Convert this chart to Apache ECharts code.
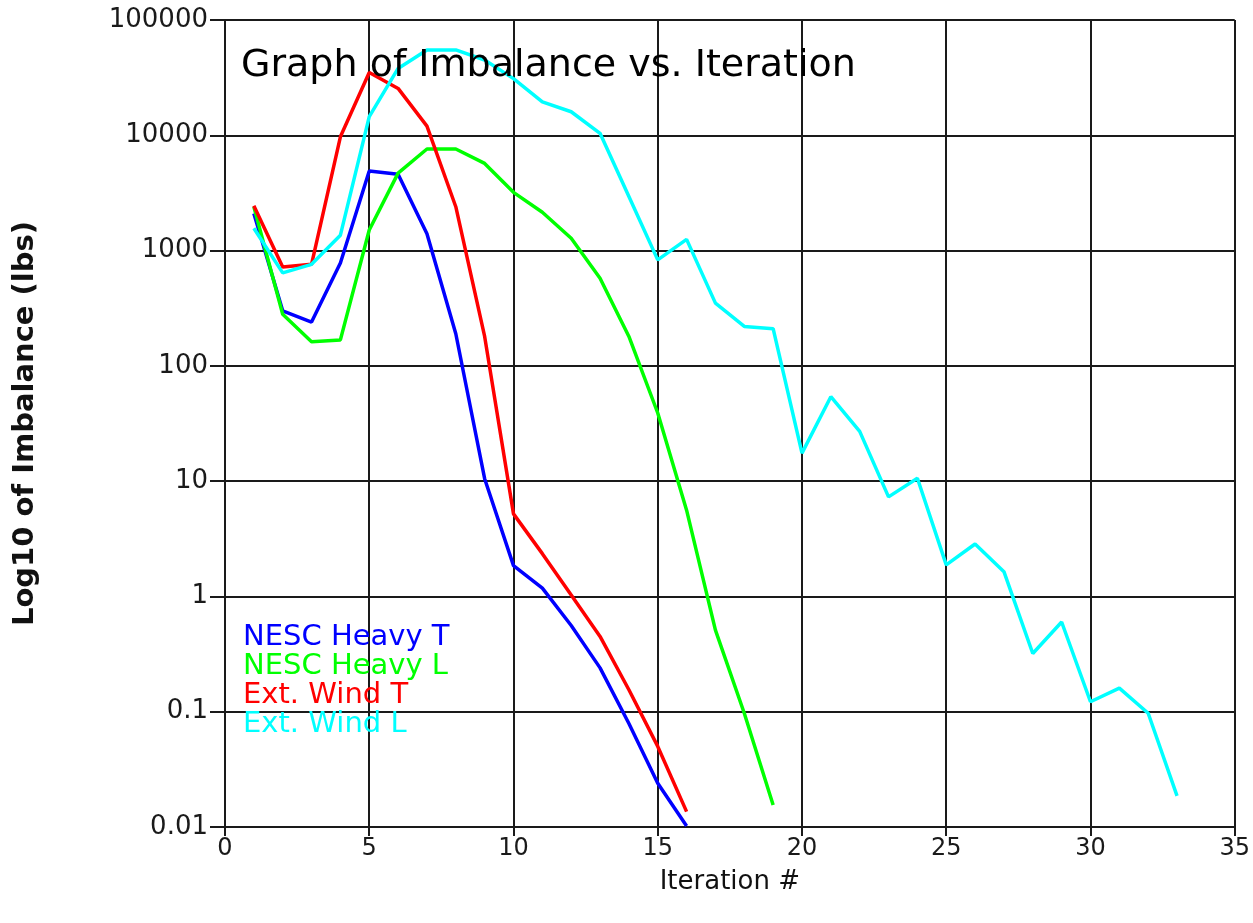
<!DOCTYPE html>
<html>
<head>
<meta charset="utf-8">
<title>Graph of Imbalance vs. Iteration</title>
<script src="https://cdn.jsdelivr.net/npm/echarts@6/dist/echarts.min.js"></script>
<style>
  html, body { margin: 0; padding: 0; background: #ffffff; }
  #chart { width: 1253px; height: 923px; }
</style>
</head>
<body>
<div id="chart"></div>
<script>
// Imbalance (lbs) per solver iteration for each load case
const nescHeavyTIter = [1, 2, 3, 4, 5, 6, 7, 8, 9, 10, 11, 12, 13, 14, 15, 16];
const nescHeavyT = [2100, 300, 240, 780, 4900, 4600, 1400, 190, 10.5, 1.85, 1.18, 0.56, 0.24, 0.079, 0.024, 0.0102];

const nescHeavyLIter = [1, 2, 3, 4, 5, 6, 7, 8, 9, 10, 11, 12, 13, 14, 15, 16, 17, 18, 19];
const nescHeavyL = [2400, 280, 162, 168, 1510, 4700, 7600, 7600, 5700, 3200, 2150, 1280, 575, 180, 39, 5.6, 0.51, 0.097, 0.0155];

const extWindTIter = [1, 2, 3, 4, 5, 6, 7, 8, 9, 10, 11, 12, 13, 14, 15, 16];
const extWindT = [2450, 720, 760, 9700, 35000, 25500, 12000, 2400, 180, 5.2, 2.35, 1.03, 0.45, 0.155, 0.05, 0.0136];

const extWindLIter = [1, 2, 3, 4, 5, 6, 7, 8, 9, 10, 11, 12, 13, 14, 15, 16, 17,
                      18, 19, 20, 21, 22, 23, 24, 25, 26, 27, 28, 29, 30, 31, 32, 33];
const extWindL = [1560, 640, 760, 1360, 14500, 38000, 55000, 55000, 45000, 31000, 19500, 16000, 10400, 2950, 830, 1250, 350,
                  220, 210, 17.5, 54, 27, 7.3, 10.6, 1.88, 2.85, 1.64, 0.32, 0.6, 0.122, 0.16, 0.097, 0.0186];

const seriesNames = ['NESC Heavy T', 'NESC Heavy L', 'Ext. Wind T', 'Ext. Wind L'];
const seriesColors = ['#0000ff', '#00ff00', '#ff0000', '#00ffff'];

const yTickLabels = ['0.01', '0.1', '1', '10', '100', '1000', '10000', '100000'];
const xTickLabels = ['0', '5', '10', '15', '20', '25', '30', '35'];

const FONT = 'DejaVu Sans';

function pairs(xs, ys) {
  return xs.map((x, i) => [x, ys[i]]);
}

const seriesData = [
  pairs(nescHeavyTIter, nescHeavyT),
  pairs(nescHeavyLIter, nescHeavyL),
  pairs(extWindTIter, extWindT),
  pairs(extWindLIter, extWindL)
];

const chart = echarts.init(document.getElementById('chart'), null, { renderer: 'canvas' });

const gridLine = { color: '#1a1a1a', width: 2 };

chart.setOption({
  backgroundColor: '#ffffff',
  animation: false,
  title: {
    text: 'Graph of Imbalance vs. Iteration',
    left: 236,
    top: 42,
    textStyle: { fontFamily: FONT, fontSize: 38, fontWeight: 'normal', color: '#000000' }
  },
  legend: {
    orient: 'vertical',
    left: 233,
    top: 618,
    itemGap: 0,
    itemWidth: 0,
    itemHeight: 0,
    selectedMode: false,
    itemStyle: { opacity: 0 },
    lineStyle: { opacity: 0 },
    data: seriesNames.map((n, i) => ({
      name: n,
      icon: 'rect',
      textStyle: { color: seriesColors[i], fontFamily: FONT, fontSize: 29, lineHeight: 27 }
    }))
  },
  grid: { left: 225, right: 18, top: 20, bottom: 96, containLabel: false },
  xAxis: {
    type: 'value',
    min: 0,
    max: 35,
    interval: 5,
    name: 'Iteration #',
    nameLocation: 'middle',
    nameGap: 42,
    nameTextStyle: { fontFamily: FONT, fontSize: 26, color: '#111111' },
    axisLine: { show: true, onZero: false, lineStyle: gridLine },
    axisTick: { show: true, length: 9, lineStyle: gridLine },
    axisLabel: {
      margin: 10,
      fontFamily: FONT,
      fontSize: 24,
      color: '#1a1a1a',
      formatter: (v) => xTickLabels[Math.round(v / 5)]
    },
    splitLine: { show: true, lineStyle: gridLine }
  },
  yAxis: {
    type: 'log',
    logBase: 10,
    min: 0.01,
    max: 100000,
    splitNumber: 7,
    name: 'Log10 of Imbalance (lbs)',
    nameLocation: 'middle',
    nameGap: 185,
    nameTextStyle: { fontFamily: FONT, fontSize: 29, fontWeight: 'bold', color: '#111111' },
    axisLine: { show: true, lineStyle: gridLine },
    axisTick: { show: true, length: 15, lineStyle: gridLine },
    axisLabel: {
      margin: 17,
      fontFamily: FONT,
      fontSize: 26,
      color: '#1a1a1a',
      formatter: (v) => yTickLabels[Math.round(Math.log10(v)) + 2]
    },
    splitLine: { show: true, lineStyle: gridLine }
  },
  series: seriesNames.map((n, i) => ({
    name: n,
    type: 'line',
    data: seriesData[i],
    showSymbol: false,
    symbol: 'none',
    color: seriesColors[i],
    lineStyle: { color: seriesColors[i], width: 3.5 },
    z: 3
  }))
});
</script>
</body>
</html>
